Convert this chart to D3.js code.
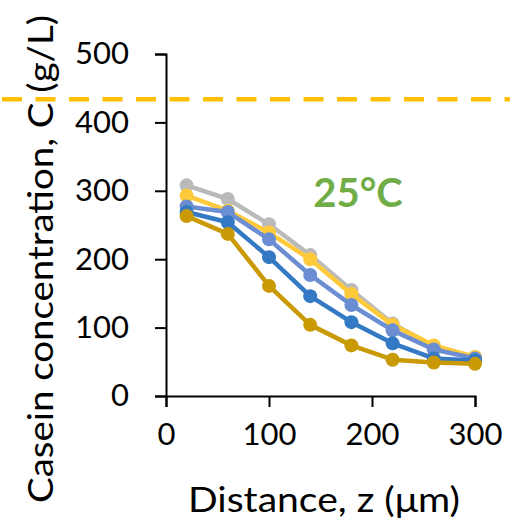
<!DOCTYPE html>
<html>
<head>
<meta charset="utf-8">
<script src="https://cdn.jsdelivr.net/npm/d3@7"></script>
<style>
  body { margin: 0; background: #fff; }
  text { font-family: Lato, "Liberation Sans", sans-serif; }
</style>
</head>
<body>
<div id="chart"></div>
<script>
// distance z (um) and casein concentration C (g/L), one array per curve
const zValues = [20, 60, 100, 140, 180, 220, 260, 300];
const greyC = [308, 288, 251, 206, 155, 106, 72, 57];
const yellowC = [293, 271, 239, 200, 149, 104, 74, 57];
const lightBlueC = [277, 269, 229, 177, 133, 96, 68, 55];
const blueC = [269, 254, 203, 146, 108, 77, 55, 52];
const goldC = [263, 237, 161, 104, 74, 53, 49, 47];
const seriesNames = ["grey", "yellow", "lightBlue", "blue", "gold"];
const seriesColors = ["#bababa", "#ffca3a", "#6b8ed2", "#3479c3", "#c99a06"];
const xTicks = [0, 100, 200, 300];
const yTicks = [0, 100, 200, 300, 400, 500];
const limitC = 434; // dashed limit line
const tempLabel = "25°C";

const allSeries = [greyC, yellowC, lightBlueC, blueC, goldC];

const width = 510, height = 526;
const svg = d3.select("#chart").append("svg")
  .attr("width", width)
  .attr("height", height);

const x = d3.scaleLinear().domain([0, 300]).range([166, 475]);
const y = d3.scaleLinear().domain([0, 500]).range([396, 54]);

// axes
const xAxis = svg.append("g")
  .attr("transform", "translate(0," + y(0) + ")")
  .call(d3.axisBottom(x).tickValues(xTicks).tickSize(11).tickSizeOuter(11).tickPadding(16));
const yAxis = svg.append("g")
  .attr("transform", "translate(" + x(0) + ",0)")
  .call(d3.axisLeft(y).tickValues(yTicks).tickSize(11).tickSizeOuter(11).tickPadding(26));

[xAxis, yAxis].forEach(function(g) {
  g.selectAll("path, line").attr("stroke", "#000").attr("stroke-width", 2);
  g.selectAll("text")
    .attr("fill", "#000")
    .style("font-size", "31px");
});

// dashed limit line across the whole figure
svg.append("line")
  .attr("x1", 0).attr("x2", width)
  .attr("y1", y(limitC)).attr("y2", y(limitC))
  .attr("stroke", "#ffc000")
  .attr("stroke-width", 4.5)
  .attr("stroke-dasharray", "20,13.5")
  .attr("stroke-dashoffset", -2);

const line = d3.line()
  .x(function(d, i) { return x(zValues[i]); })
  .y(function(d) { return y(d); });

allSeries.forEach(function(vals, k) {
  const g = svg.append("g").attr("class", seriesNames[k]);
  g.append("path")
    .datum(vals)
    .attr("d", line)
    .attr("fill", "none")
    .attr("stroke", seriesColors[k])
    .attr("stroke-width", 4.5)
    .attr("stroke-linejoin", "round");
  g.selectAll("circle")
    .data(vals)
    .enter().append("circle")
    .attr("cx", function(d, i) { return x(zValues[i]); })
    .attr("cy", function(d) { return y(d); })
    .attr("r", 7)
    .attr("fill", seriesColors[k]);
});

// temperature label
svg.append("text")
  .attr("x", 358).attr("y", 207)
  .attr("text-anchor", "middle")
  .attr("fill", "#70ad47")
  .style("font-size", "40px")
  .style("font-weight", "bold")
  .text(tempLabel);

// axis titles
svg.append("text")
  .attr("x", 324).attr("y", 512)
  .attr("text-anchor", "middle")
  .attr("textLength", 272)
  .attr("lengthAdjust", "spacingAndGlyphs")
  .style("font-size", "34px")
  .text("Distance, z (μm)");

svg.append("text")
  .attr("transform", "translate(53,259) rotate(-90)")
  .attr("text-anchor", "middle")
  .attr("textLength", 488)
  .attr("lengthAdjust", "spacingAndGlyphs")
  .style("font-size", "34px")
  .text("Casein concentration, C (g/L)");
</script>
</body>
</html>
